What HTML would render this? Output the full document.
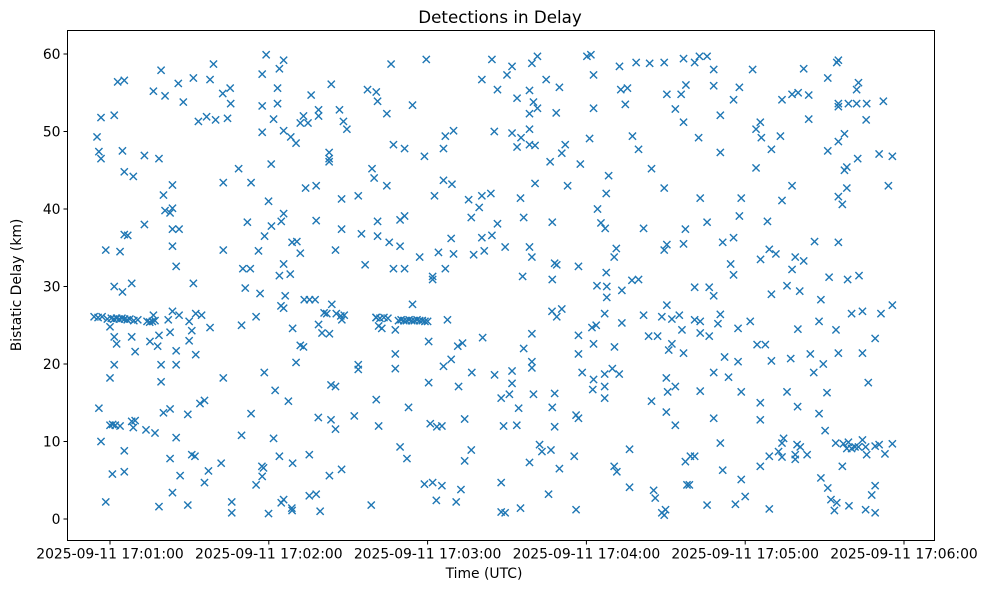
<!DOCTYPE html>
<html><head><meta charset="utf-8">
<style>
html,body{margin:0;padding:0;background:#fff;}
svg text{font-family:"DejaVu Sans","Liberation Sans",sans-serif;fill:#000;}
</style></head>
<body>
<svg id="chart" width="986" height="590" viewBox="0 0 986 590" xmlns="http://www.w3.org/2000/svg">
<rect x="0" y="0" width="986" height="590" fill="#fff"/>
<text x="500" y="23" font-size="16.7" text-anchor="middle">Detections in Delay</text>
<g id="marks"></g>
<g id="xaxis"></g>
<g id="yaxis"></g>
<rect x="67.5" y="30.5" width="867" height="510" fill="none" stroke="#000" stroke-width="1"/>
<text x="484" y="578" font-size="13.9" text-anchor="middle">Time (UTC)</text>
<text x="0" y="0" font-size="13.9" text-anchor="middle" transform="translate(21,285) rotate(-90)">Bistatic Delay (km)</text>
</svg>
<script>
// x tick values: seconds after 17:00:00
const xTickValues = [60,120,180,240,300,360];
const xTickLabels = ["2025-09-11 17:01:00","2025-09-11 17:02:00","2025-09-11 17:03:00","2025-09-11 17:04:00","2025-09-11 17:05:00","2025-09-11 17:06:00"];
const yTickValues = [0,10,20,30,40,50,60];
const yTickLabels = ["0","10","20","30","40","50","60"];
// detections: [seconds after 17:00:00, bistatic delay km]
const detections = [
[99.1,58.7],[79.3,57.9],[62.9,56.4],[65.4,56.6],[85.8,56.2],[91.5,56.9],[97.8,56.7],[76.4,55.2],[80.8,54.6],[102.6,54.9],[105.4,55.6],[87.7,53.8],[105.6,53.6],[56.6,51.8],[61.6,52.1],[93.4,51.3],[96.5,51.9],[99.9,51.5],[104.4,51.7],[55.1,49.3],[55.8,47.4],[56.6,46.5],[64.7,47.5],[73,46.9],[78.5,46.5],[65.4,44.8],[68.8,44.2],[83.6,43.1],[102.8,43.4],[80.2,41.8],[80.8,39.8],[83.6,40.1],[82.7,39.5],[73,38],[65.4,36.7],[66.7,36.6],[83.6,37.4],[86.1,37.4],[58.4,34.7],[63.8,34.5],[83.6,35.2],[102.8,34.7],[85,32.6],[61.6,30],[64.7,29.3],[68.2,30.4],[91.5,30.4],
[54,26.1],[55.5,26.0],[57,26.1],[59,25.8],[60.5,25.9],[61.5,25.8],[62.5,25.9],[63.5,25.8],[64.5,25.9],[65.5,25.8],[66.5,25.7],[67.5,25.8],[69,25.6],[70.5,25.7],[74,25.5],[75,25.4],[76,25.5],[77,25.6],
[76.4,26.3],[83.6,26.8],[86.1,26.3],[82,25.7],[92.4,26.5],[94.6,26.3],[89.9,25.5],[97.8,24.7],[60,24.8],[61.6,23.5],[62.5,22.6],[68.2,23.5],[69.5,21.6],[75.1,22.9],[78.5,23.7],[78,22.3],[82.7,24.1],[90.9,24.3],[89.9,23],[85,21.7],[92.4,21.2],[61.6,19.9],[79.3,19.9],[85,19.9],[60,18.2],[79.3,17.7],[102.8,18.2],[55.8,14.3],[80.2,13.7],[82.7,14.2],[89.4,13.5],[94,14.9],[95.7,15.3],[60,12.1],[61,12.2],[62,12.1],[63.8,12],[68.2,12.6],[69.5,12.7],[68.8,11.8],[73.6,11.5],[77,11.1],[56.6,10],[85,10.5],[65.4,8.8],[82.7,7.8],[90.9,8.3],[92.1,8.1],[102,7.2],[60.9,5.8],[65.4,6.1],[86.5,5.6],[97.2,6.2],[95.7,4.7],[83.6,3.4],[58.4,2.2],[78.5,1.6],[89.4,1.8],[106,2.2],[106,0.8],
[119,59.9],[125.6,59.2],[124,58.1],[117.5,57.4],[123.3,55.6],[143.6,56.1],[157.3,55.4],[160.6,55.1],[161.1,53.9],[136,54.7],[117.5,53.3],[123.3,53.6],[138.8,52.8],[138.8,52],[146.7,52.8],[121.8,51.6],[133.1,52],[131.9,51.1],[134.8,51.1],[148.2,51.3],[149.5,50.3],[117.5,49.9],[125.6,50.1],[128.3,49.3],[130.3,48.5],[142.8,47.3],[142.8,46.5],[142.8,46.1],[108.6,45.2],[120.9,45.8],[159,45.2],[159.8,44],[113.3,43.4],[133.9,42.7],[137.9,43],[119.9,41],[147.5,41.3],[153.8,41.7],[125.6,39.4],[124.7,38.4],[111.9,38.3],[121,37.8],[137.9,38.5],[161.1,38.4],[161.1,36.5],[147.5,37.4],[155,36.8],[118.4,36.5],[128.8,35.7],[130.6,35.8],[131.9,34.3],[116.1,34.6],[145.2,34.7],[110.2,32.3],[113,32.3],[125.6,32.9],[124,31.4],[128.1,31.6],[156.4,32.8],[111.1,29.8],[116.7,29.1],[126.2,28.8],[124.6,27.5],[125.6,27.2],[133.4,28.3],[135.4,28.3],[137.5,28.3],[143.8,27.7],[140.9,26.6],[141.9,26.5],[145.5,26.5],[147.2,26.2],[148.5,26.3],[147.6,25.7],[115.2,26.1],[109.7,25],[160.6,26],[161.5,24.9],[138.8,25.1],[140.1,24],[142.9,23.9],[129,24.6],[131.9,22.4],[133.1,22.2],[130.3,20.2],[153.8,19.9],[153.8,19.3],[118.3,18.9],[122.4,16.6],[143.5,17.3],[145.2,17.1],[127.4,15.2],[160.6,15.4],[113.3,13.6],[138.7,13.1],[143.5,12.8],[145.2,11.6],[152.3,13.3],[161.5,12],[109.7,10.8],[121.8,10.4],[124,8.1],[129,7.2],[135.3,8.3],[117.4,6.8],[118,6.6],[117.5,5.5],[115.2,4.4],[142.9,5.6],[147.5,6.4],[125.6,2.5],[124.7,2.1],[128.7,1.4],[128.8,1.1],[119.9,0.7],[135.3,3],[137.9,3.2],[139.4,1.0],[158.7,1.8],
[166.2,58.7],[179.5,59.3],[204.3,59.3],[211.9,58.4],[210,57.3],[200.5,56.7],[206.4,55.4],[213.8,54.3],[174.3,53.4],[164.6,52.3],[186.7,49.4],[189.8,50.1],[186,47.8],[167.1,48.3],[171.3,47.8],[178.8,46.8],[205.2,50],[211.9,49.8],[215.3,49.2],[213.8,48],[164.6,43],[186,43.7],[189.2,43.2],[182.6,41.7],[195.5,41.2],[199.5,40.2],[200.5,41.7],[203.9,42],[196.5,38.9],[215.1,41.4],[216.3,38.9],[206.4,38.1],[169.6,38.6],[171.3,39.1],[165.5,35.7],[169.6,35.2],[188.9,36.2],[200.5,36.3],[204.3,36.6],[201.4,34.6],[209.3,35.1],[177,33.8],[184.1,34.4],[189.8,34.2],[197.4,34.1],[167.1,32.3],[171.3,32.3],[186.7,32.3],[181.9,31.3],[181.9,30.9],[215.9,31.3],[174.3,27.7],
[160.5,26],[162,25.9],[163.5,26],[165,25.9],[169,25.6],[170,25.7],[171,25.6],[172,25.6],[173,25.7],[174,25.6],[175,25.6],[176,25.7],[177,25.6],[178,25.6],[179,25.5],[180,25.5],
[162.7,24.6],[167.8,24.4],[187.5,25.7],[180.4,22.9],[191.4,22.3],[193.2,22.7],[200.8,23.4],[216.3,22],[167.8,21.3],[167.8,19.4],[188.9,20.6],[186,19.7],[196.7,18.9],[205.3,18.6],[211.9,19.1],[211.9,17.5],[180.4,17.6],[191.7,17.1],[207.8,15.6],[210.9,16.1],[172.8,14.4],[214.4,14.3],[194,12.9],[181,12.3],[183.5,11.9],[185.4,12],[208.7,12],[213.7,12.1],[169.6,9.3],[172.2,7.8],[196.5,8.9],[194,7.5],[178.8,4.5],[181.9,4.7],[185.4,4.3],[192.6,3.8],[183.3,2.4],[190.8,2.2],[207.8,4.7],[207.8,0.9],[209.3,0.8],[215.1,1.4],
[221.5,59.7],[219.4,58.8],[240.2,59.7],[241.7,59.9],[242.7,57.3],[224.8,56.7],[229.8,55.7],[218.5,55.3],[252.5,58.4],[258.8,58.9],[263.9,58.8],[269.4,58.9],[253,55.4],[255.5,55.6],[270.4,54.8],[220,53.8],[221.5,53],[218.5,52.3],[228.6,52.4],[242.7,53],[254.7,53.5],[218.5,50.3],[218.5,48.3],[220.6,48.2],[232,48.3],[230.7,47.2],[226.3,46.1],[237.7,45.8],[241.2,49.1],[257.4,49.4],[259.7,47.7],[264.6,45.2],[220.6,43.3],[232.9,43],[248.4,44.3],[247.5,42],[269.4,42.7],[227.1,38.3],[244.2,40],[245.5,38.2],[247.1,37.5],[261.6,37.5],[218.5,35.1],[219.4,33.8],[228,33],[228.8,32.8],[237,32.6],[251.3,34.9],[250.5,33.8],[269.4,34.7],[270.4,35.4],[227.1,30.9],[247.5,31.8],[244,30.1],[247.7,30],[247.7,28.6],[253.4,29.5],[257.2,30.8],[259.7,30.9],[270.4,27.6],[227,26.8],[228.8,26.1],[230.7,27.1],[246.9,26.5],[253.4,25.3],[261.6,26.3],[268.5,26.1],[219.4,23.9],[237,23.7],[242.1,24.7],[243.7,25],[242.7,22.6],[237,21.3],[250.6,22.2],[263.5,23.6],[266.9,23.6],[271.1,21.8],[219.4,20.3],[219.4,19.5],[238.4,18.9],[242.7,18],[242.4,16.7],[246.9,18.7],[249.8,19.4],[252.4,18.7],[246.9,17.1],[246.9,15.6],[270.2,18.2],[270.7,16.4],[220,16.1],[228,16.2],[227.1,14.4],[228,11.9],[236.1,13.4],[237,13],[264.6,15.2],[270.2,13.8],[222.3,9.6],[223.2,8.7],[226.6,8.9],[218.5,7.3],[235.4,8.1],[229.8,6.5],[256.3,9],[250.5,6.8],[251.5,6.1],[225.7,3.2],[256.3,4.1],[265.4,3.7],[266,2.7],[236.1,1.2],[268.5,0.8],[269.9,1.2],[269.4,0.5],
[276.7,59.4],[280.9,58.9],[282.7,59.7],[285.6,59.7],[288.1,58],[302.8,58],[322.1,58.1],[277.6,56],[288.1,55.9],[297.8,55.7],[275.8,54.8],[295.6,54.1],[313.9,54.1],[317.7,54.8],[320,55],[324,54.7],[273.6,52.9],[276.7,51.2],[290.6,52.1],[305.7,51.2],[304.1,50.3],[306.1,49.2],[313.3,49.4],[309.9,47.7],[324,51.6],[282.4,49.2],[290.6,47.3],[304.1,45.3],[317.7,43],[313.9,41.1],[283,41.4],[298.5,41.4],[297.8,39.1],[308.4,38.4],[285.6,38.3],[277.4,37.4],[276.7,35.5],[291.5,35.7],[295.6,36.3],[309.1,34.8],[311.6,34.2],[305.8,33.5],[318.9,33.8],[322.1,33.3],[317.7,32.2],[326.2,35.8],[294.5,32.9],[295.6,31.5],[280.9,29.9],[286.4,29.9],[288.1,28.8],[309.9,29],[315.8,30.1],[320.6,29.4],[272.3,25.8],[275.1,26.3],[280.9,25.7],[283,25.5],[276.1,24.4],[289.7,25.2],[290.6,26.4],[301.9,25.5],[297.3,24.6],[319.9,24.5],[283,24],[286.4,23.6],[272.3,22.6],[276.7,21.4],[304.5,22.5],[307.6,22.5],[292.2,20.9],[297.3,20.3],[309.9,20.4],[317.2,20.7],[324.6,21.3],[325.9,18.9],[288.1,18.9],[293.7,18.3],[273.6,17.1],[283,16.5],[298.5,16.4],[315.8,16.4],[305.7,15],[305.7,12.8],[319.8,14.5],[273.6,12.1],[288.1,13],[290.6,9.8],[314.5,10.4],[313.9,9.8],[312.6,8.7],[309.1,8.1],[313.9,8],[319.6,9.6],[320.8,9.3],[318.9,8.3],[318.9,7.7],[323.4,8.3],[279.3,8.1],[280.9,8.1],[277.4,7.4],[291.5,6.3],[305.7,6.8],[298.5,5.1],[278,4.4],[278.9,4.4],[300,2.9],[285.6,1.8],[296.3,1.9],[309.1,1.3],
[334.6,58.9],[335.2,59.2],[331.2,56.9],[342.8,56.3],[342.1,55.4],[335.2,53.6],[335.2,53.2],[339,53.6],[342.1,53.6],[345.9,53.6],[352.2,53.9],[345.7,51.5],[337.5,49.7],[335.2,48.7],[331.2,47.5],[342.5,46.5],[337.5,45],[338.4,45.4],[350.6,47.1],[355.6,46.8],[338.4,42.7],[335.2,41.6],[336.7,40.6],[354.1,43],[335.2,35.7],[331.7,31.2],[338.7,30.9],[343,31.4],[328.6,28.3],[340.2,26.5],[344.3,26.8],[351.3,26.5],[355.6,27.6],[327.9,25.5],[334.3,24.4],[349.1,23.3],[329.5,20],[335.2,21.4],[344.3,21.4],[346.5,17.6],[330.9,16.3],[327.9,13.6],[330.2,11.4],
[334.2,9.8],[337.1,9.7],[339,9.9],[340.2,9.1],[341.5,9.3],[342.8,9.3],[344.3,10.2],[345.5,9.3],[345.9,8.3],[349.1,9.4],[350.6,9.6],[352.8,8.4],[355.6,9.7],[338.4,9.1],
[336.7,6.8],[328.6,5.3],[331.2,4],[349.1,4.3],[347.8,3.1],[332.4,2.5],[334.6,2.1],[333.7,1.1],[339.2,1.7],[345.5,1.2],[349.1,0.8]
];

const NS = "http://www.w3.org/2000/svg";
const PL = 67.5, PR = 934.5, PT = 30.5, PB = 540.5;
function xScale(s){ return 110 + (s - 60) * (158.8 / 60); }
function yScale(k){ return 519 - k * 7.75; }

const marks = document.getElementById('marks');
for (const d of detections) {
  const cx = xScale(d[0]), cy = yScale(d[1]), r = 3.6;
  const p = document.createElementNS(NS, 'path');
  p.setAttribute('d', `M${cx-r},${cy-r}L${cx+r},${cy+r}M${cx-r},${cy+r}L${cx+r},${cy-r}`);
  p.setAttribute('stroke', '#1f77b4');
  p.setAttribute('stroke-width', '1.4');
  p.setAttribute('fill', 'none');
  
  
  marks.appendChild(p);
}

const xa = document.getElementById('xaxis');
xTickValues.forEach((v, i) => {
  const x = xScale(v);
  const t = document.createElementNS(NS, 'line');
  t.setAttribute('x1', x); t.setAttribute('x2', x);
  t.setAttribute('y1', PB); t.setAttribute('y2', PB + 4);
  t.setAttribute('stroke', '#000');
  
  
  xa.appendChild(t);
  const l = document.createElementNS(NS, 'text');
  l.setAttribute('x', x); l.setAttribute('y', PB + 18);
  l.setAttribute('font-size', '13.9'); l.setAttribute('text-anchor', 'middle');
  l.textContent = xTickLabels[i];
  
  
  xa.appendChild(l);
});

const ya = document.getElementById('yaxis');
yTickValues.forEach((v, i) => {
  const y = yScale(v);
  const t = document.createElementNS(NS, 'line');
  t.setAttribute('x1', PL - 4); t.setAttribute('x2', PL);
  t.setAttribute('y1', y); t.setAttribute('y2', y);
  t.setAttribute('stroke', '#000');
  
  
  ya.appendChild(t);
  const l = document.createElementNS(NS, 'text');
  l.setAttribute('x', PL - 7); l.setAttribute('y', y + 5);
  l.setAttribute('font-size', '13.9'); l.setAttribute('text-anchor', 'end');
  l.textContent = yTickLabels[i];
  
  
  ya.appendChild(l);
});
</script>
</body></html>
